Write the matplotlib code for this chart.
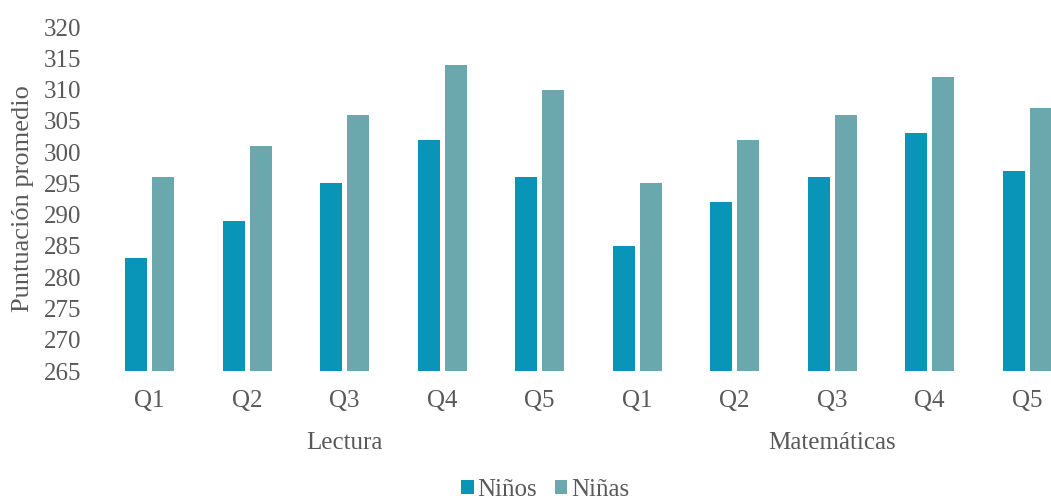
import matplotlib.pyplot as plt
import numpy as np

plt.rcParams['font.family'] = ['Liberation Serif', 'DejaVu Serif']

quintiles = ['Q1', 'Q2', 'Q3', 'Q4', 'Q5']
subjects = ['Lectura', 'Matemáticas']
ninos = [283, 289, 295, 302, 296, 285, 292, 296, 303, 297]
ninas = [296, 301, 306, 314, 310, 295, 302, 306, 312, 307]

c_ninos = '#0895b8'
c_ninas = '#6aa8ae'
gray = '#595959'
base = 265

fig = plt.figure(figsize=(10.51, 5), dpi=100)
ax = fig.add_axes([101 / 1051, 129 / 500, 950 / 1051, 344 / 500])

x = np.arange(len(ninos))
w = 0.225
ax.bar(x - 0.14, np.array(ninos) - base, w, bottom=base, color=c_ninos, label='Niños')
ax.bar(x + 0.14, np.array(ninas) - base, w, bottom=base, color=c_ninas, label='Niñas')

ax.set_ylim(265, 320)
ax.set_yticks(np.arange(265, 321, 5))
ax.set_xlim(-0.5, 9.244)
ax.set_xticks(x)
ax.set_xticklabels(quintiles * 2)
ax.tick_params(length=0, labelsize=18, colors=gray)
ax.tick_params(axis='y', pad=14)
ax.tick_params(axis='x', pad=14)
for s in ax.spines.values():
    s.set_visible(False)

ax.set_ylabel('Puntuación promedio', fontsize=19, color=gray)
ax.yaxis.set_label_coords(-0.07, 0.5)

# subject names under each block of quintiles
for i, name in enumerate(subjects):
    ax.text(2 + 5 * i, -0.21, name, transform=ax.get_xaxis_transform(),
            ha='center', va='center', fontsize=18, color=gray)

fig.legend(loc='center', bbox_to_anchor=(545 / 1051, 1 - 490 / 500), ncol=2,
           frameon=False, fontsize=18, labelcolor=gray, handlelength=0.5,
           handleheight=0.5, handletextpad=0.15, columnspacing=0.7)

plt.savefig('out.png', dpi=100)
